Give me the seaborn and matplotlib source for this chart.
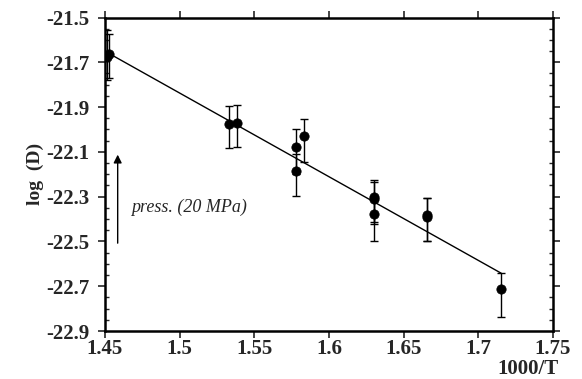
import matplotlib
matplotlib.use("Agg")
import matplotlib.pyplot as plt
import seaborn as sns
import numpy as np
import pandas as pd
from matplotlib.ticker import MultipleLocator

# data
inv_t = [1.4515, 1.4525, 1.5332, 1.5382, 1.5777, 1.5777, 1.5830,
         1.6299, 1.6299, 1.6299, 1.6658, 1.6658, 1.7154]
log_d = [-21.675, -21.662, -21.975, -21.970, -22.079, -22.185, -22.028,
         -22.300, -22.310, -22.379, -22.382, -22.392, -22.712]
err_up = [0.12, 0.09, 0.081, 0.081, 0.08, 0.076, 0.075,
          0.073, 0.075, 0.08, 0.078, 0.085, 0.07]
err_low = [0.105, 0.11, 0.106, 0.107, 0.12, 0.112, 0.116,
           0.114, 0.11, 0.117, 0.116, 0.106, 0.124]

# fitted line end points
fit_x = [1.452, 1.7154]
fit_y = [-21.658, -22.642]

# pressure arrow
arrow_x = 1.4585
arrow_y = [-22.52, -22.10]

x_ticks = [1.45, 1.5, 1.55, 1.6, 1.65, 1.7, 1.75]
x_labels = ["1.45", "1.5", "1.55", "1.6", "1.65", "1.7", "1.75"]
y_ticks = [-21.5, -21.7, -21.9, -22.1, -22.3, -22.5, -22.7, -22.9]
y_labels = ["-21.5", "-21.7", "-21.9", "-22.1", "-22.3", "-22.5", "-22.7", "-22.9"]

df = pd.DataFrame({"inv_t": inv_t, "log_d": log_d})
fit = pd.DataFrame({"x": fit_x, "y": fit_y})

sns.set_theme(style="ticks")
plt.rcParams["font.family"] = ["Liberation Serif", "DejaVu Serif"]

fig = plt.figure(figsize=(5.82, 3.79), dpi=100)
ax = fig.add_axes([0.1804, 0.1266, 0.7696, 0.8272])

sns.lineplot(data=fit, x="x", y="y", ax=ax, color="black", lw=1.0)
ax.errorbar(inv_t, log_d, yerr=[err_low, err_up], fmt="none",
            ecolor="black", elinewidth=1.0, capsize=3, capthick=1.0)
sns.scatterplot(data=df, x="inv_t", y="log_d", ax=ax, color="black",
                s=45, edgecolor="black", zorder=5)

ax.annotate("", xy=(arrow_x, arrow_y[1]), xytext=(arrow_x, arrow_y[0]),
            arrowprops=dict(arrowstyle="-|>", color="black", lw=1.0,
                            mutation_scale=12))
ax.text(1.4674, -22.347, "press. (20 MPa)", fontsize=13, style="italic",
        va="center", ha="left")

ax.set_xlim(1.45, 1.75)
ax.set_ylim(-22.9, -21.5)
ax.set_xticks(x_ticks, x_labels)
ax.set_yticks(y_ticks, y_labels)
ax.yaxis.set_minor_locator(MultipleLocator(0.05))

ax.tick_params(axis="both", which="major", direction="out", length=5,
               width=1.2, labelsize=15, top=True, right=True,
               labeltop=False, labelright=False)
ax.tick_params(axis="x", which="major", pad=1)
ax.tick_params(axis="y", which="major", pad=6)
ax.tick_params(axis="y", which="minor", direction="in", length=3,
               width=1.0, left=True, right=True)
for lab in ax.get_xticklabels() + ax.get_yticklabels():
    lab.set_fontweight("bold")
for sp in ax.spines.values():
    sp.set_linewidth(1.8)
    sp.set_color("black")

ax.set_xlabel("")
ax.set_ylabel("log  (D)", fontsize=14, fontweight="bold", labelpad=2)
fig.text(0.959, 0.0, "1000/T", fontsize=15, fontweight="bold",
         ha="right", va="bottom")

fig.savefig("out.png", dpi=100)
